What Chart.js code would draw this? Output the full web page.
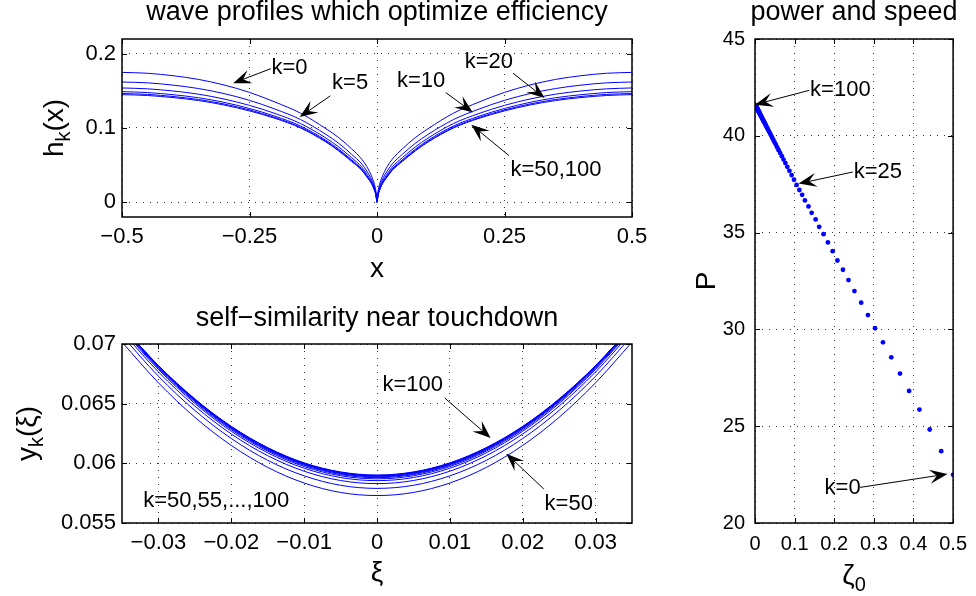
<!DOCTYPE html>
<html>
<head>
<meta charset="utf-8">
<title>wave profiles</title>
<script src="https://cdn.jsdelivr.net/npm/chart.js@4.4.1/dist/chart.umd.min.js"></script>
<style>
  html, body { margin: 0; padding: 0; background: #fff; }
  #page { position: relative; width: 976px; height: 596px; overflow: hidden; background: #fff; }
  #page canvas { position: absolute; }
</style>
</head>
<body>
<div id="page">
  <canvas id="profiles" width="660" height="290" style="left:0;top:0"></canvas>
  <canvas id="touchdown" width="660" height="306" style="left:0;top:290px"></canvas>
  <canvas id="power" width="316" height="596" style="left:660px;top:0"></canvas>
</div>
<script>
// ---- top left: half profiles h_k(x), x >= 0 (mirrored for x < 0)
const profileX = [0, 0.002, 0.005, 0.01, 0.02, 0.03, 0.05, 0.075, 0.1, 0.15, 0.2, 0.25, 0.3, 0.35, 0.4, 0.45, 0.5];
const profileK0   = [0, 0.014, 0.024, 0.034, 0.048, 0.058, 0.072, 0.087, 0.099, 0.120, 0.135, 0.148, 0.158, 0.1655, 0.1705, 0.1738, 0.175];
const profileK5   = [0, 0.0119, 0.0206, 0.0297, 0.0420, 0.0516, 0.0647, 0.0793, 0.0913, 0.1114, 0.1255, 0.1373, 0.1464, 0.1532, 0.1578, 0.1609, 0.162];
const profileK10  = [0, 0.0105, 0.0184, 0.0270, 0.0382, 0.0475, 0.0601, 0.0744, 0.0864, 0.1060, 0.1196, 0.1305, 0.1391, 0.1456, 0.1499, 0.1528, 0.154];
const profileK20  = [0, 0.0097, 0.0171, 0.0253, 0.0359, 0.0450, 0.0573, 0.0714, 0.0834, 0.1027, 0.1159, 0.1263, 0.1346, 0.1408, 0.1449, 0.1478, 0.149];
const profileK50  = [0, 0.0093, 0.0164, 0.0245, 0.0347, 0.0438, 0.0559, 0.0699, 0.0819, 0.1010, 0.1141, 0.1243, 0.1324, 0.1384, 0.1425, 0.1453, 0.1465];
const profileK100 = [0, 0.0090, 0.0160, 0.0240, 0.0340, 0.0430, 0.0550, 0.0690, 0.0810, 0.1000, 0.1130, 0.1230, 0.1310, 0.1370, 0.1410, 0.1438, 0.145];
const profileXTicks = [-0.5, -0.25, 0, 0.25, 0.5];
const profileXLabels = ['\u22120.5', '\u22120.25', '0', '0.25', '0.5'];
const profileYTicks = [0, 0.1, 0.2];
const profileYLabels = ['0', '0.1', '0.2'];

// ---- bottom left: y_k(xi) near touchdown, xi >= 0 (mirrored), k = 50,55,...,100
const nearXi = [0, 0.005, 0.01, 0.015, 0.02, 0.025, 0.03, 0.035];
const nearK50  = [0.05730, 0.05756, 0.05835, 0.05966, 0.06150, 0.06386, 0.06675, 0.07016];
const nearK55  = [0.05790, 0.05816, 0.05895, 0.06025, 0.06208, 0.06443, 0.06730, 0.07070];
const nearK60  = [0.05830, 0.05856, 0.05934, 0.06064, 0.06246, 0.06480, 0.06766, 0.07104];
const nearK65  = [0.05855, 0.05881, 0.05959, 0.06088, 0.06269, 0.06502, 0.06787, 0.07123];
const nearK70  = [0.05870, 0.05896, 0.05973, 0.06102, 0.06282, 0.06514, 0.06797, 0.07132];
const nearK75  = [0.05880, 0.05906, 0.05983, 0.06111, 0.06291, 0.06523, 0.06805, 0.07139];
const nearK80  = [0.05887, 0.05913, 0.05990, 0.06118, 0.06297, 0.06528, 0.06810, 0.07144];
const nearK85  = [0.05892, 0.05918, 0.05994, 0.06122, 0.06302, 0.06532, 0.06814, 0.07146];
const nearK90  = [0.05896, 0.05922, 0.05998, 0.06126, 0.06305, 0.06535, 0.06816, 0.07148];
const nearK95  = [0.05899, 0.05925, 0.06001, 0.06129, 0.06307, 0.06537, 0.06818, 0.07150];
const nearK100 = [0.05902, 0.05928, 0.06004, 0.06132, 0.06310, 0.06540, 0.06820, 0.07152];
const nearXTicks = [-0.03, -0.02, -0.01, 0, 0.01, 0.02, 0.03];
const nearXLabels = ['\u22120.03', '\u22120.02', '\u22120.01', '0', '0.01', '0.02', '0.03'];
const nearYTicks = [0.055, 0.06, 0.065, 0.07];
const nearYLabels = ['0.055', '0.06', '0.065', '0.07'];

// ---- right: power P against zeta_0, k = 0..100
const zetaValues = [
  0.5, 0.470, 0.441, 0.415, 0.389, 0.366, 0.344, 0.323, 0.303, 0.285,
  0.268, 0.251, 0.236, 0.222, 0.208, 0.196, 0.184, 0.173, 0.162, 0.153,
  0.143, 0.135, 0.126, 0.119, 0.112, 0.105, 0.0985, 0.0925, 0.0869, 0.0816,
  0.0767, 0.0721, 0.0677, 0.0636, 0.0597, 0.0561, 0.0527, 0.0495, 0.0465, 0.0437,
  0.0410, 0.0385, 0.0362, 0.0340, 0.0320, 0.0300, 0.0282, 0.0265, 0.0249, 0.0234,
  0.0220, 0.0206, 0.0194, 0.0182, 0.0171, 0.0161, 0.0151, 0.0142, 0.0133, 0.0125,
  0.0118, 0.0110, 0.0104, 0.0097, 0.0092, 0.0086, 0.0081, 0.0076, 0.0071, 0.0067,
  0.0063, 0.0059, 0.0056, 0.0052, 0.0049, 0.0046, 0.0043, 0.0041, 0.0038, 0.0036,
  0.0034, 0.0032, 0.0030, 0.0028, 0.0026, 0.0025, 0.0023, 0.0022, 0.0020, 0.0019,
  0.0018, 0.0017, 0.0016, 0.0015, 0.0014, 0.0013, 0.0012, 0.0012, 0.0011, 0.0010,
  0.0010
];
const powerValues = [
  22.49, 23.71, 24.83, 25.86, 26.82, 27.72, 28.56, 29.33, 30.06, 30.74,
  31.38, 31.98, 32.55, 33.08, 33.56, 34.04, 34.49, 34.92, 35.30, 35.68,
  36.02, 36.35, 36.66, 36.95, 37.20, 37.46, 37.73, 37.97, 38.19, 38.40,
  38.59, 38.77, 38.95, 39.11, 39.26, 39.40, 39.54, 39.66, 39.78, 39.89,
  40.00, 40.10, 40.19, 40.28, 40.36, 40.43, 40.51, 40.57, 40.64, 40.70,
  40.75, 40.81, 40.85, 40.90, 40.94, 40.98, 41.02, 41.06, 41.09, 41.13,
  41.15, 41.19, 41.21, 41.24, 41.26, 41.28, 41.30, 41.32, 41.34, 41.36,
  41.37, 41.39, 41.40, 41.41, 41.43, 41.44, 41.45, 41.46, 41.47, 41.48,
  41.49, 41.49, 41.50, 41.51, 41.52, 41.52, 41.53, 41.53, 41.54, 41.54,
  41.55, 41.55, 41.56, 41.56, 41.56, 41.57, 41.57, 41.57, 41.58, 41.58,
  41.58
];
const powerXTicks = [0, 0.1, 0.2, 0.3, 0.4, 0.5];
const powerXLabels = ['0', '0.1', '0.2', '0.3', '0.4', '0.5'];
const powerYTicks = [20, 25, 30, 35, 40, 45];
const powerYLabels = ['20', '25', '30', '35', '40', '45'];

const FONT = '"Liberation Sans", Arial, Helvetica, sans-serif';
const BLUE = '#0000ff';
Chart.defaults.font.family = FONT;
Chart.defaults.color = '#000';

// symmetric curve from the half arrays
function mirror(xs, ys) {
  const pts = [];
  for (let i = xs.length - 1; i > 0; i--) pts.push({ x: -xs[i], y: ys[i] });
  for (let i = 0; i < xs.length; i++) pts.push({ x: xs[i], y: ys[i] });
  return pts;
}

function curve(points) {
  return {
    data: points, borderColor: BLUE, borderWidth: 1, pointRadius: 0,
    fill: false, cubicInterpolationMode: 'monotone'
  };
}

// text with optional subscripts, centred on x along its own direction, y = baseline
function richText(ctx, parts, x, y, size, rotate) {
  const sub = Math.round(size * 0.7);
  ctx.save();
  ctx.translate(x, y);
  if (rotate) ctx.rotate(-Math.PI / 2);
  ctx.textAlign = 'left';
  ctx.textBaseline = 'alphabetic';
  ctx.fillStyle = '#000';
  let w = 0;
  parts.forEach(p => { ctx.font = (p[1] ? sub : size) + 'px ' + FONT; w += ctx.measureText(p[0]).width; });
  let cx = -w / 2;
  parts.forEach(p => {
    ctx.font = (p[1] ? sub : size) + 'px ' + FONT;
    ctx.fillText(p[0], cx, p[1] ? size * 0.24 : 0);
    cx += ctx.measureText(p[0]).width;
  });
  ctx.restore();
}

function arrow(ctx, x1, y1, x2, y2) {
  const ang = Math.atan2(y2 - y1, x2 - x1);
  const dx = Math.cos(ang), dy = Math.sin(ang);
  const L = 18, W = 7;
  ctx.beginPath();
  ctx.moveTo(x1, y1);
  ctx.lineTo(x2 - dx * L * 0.6, y2 - dy * L * 0.6);
  ctx.stroke();
  ctx.beginPath();
  ctx.moveTo(x2, y2);
  ctx.lineTo(x2 - dx * L - dy * W, y2 - dy * L + dx * W);
  ctx.lineTo(x2 - dx * L * 0.6, y2 - dy * L * 0.6);
  ctx.lineTo(x2 - dx * L + dy * W, y2 - dy * L - dx * W);
  ctx.closePath();
  ctx.fill();
}

// matlab-like box, inner ticks, titles, labels and text arrows
const framePlugin = {
  id: 'frame',
  afterDraw(chart, args, o) {
    const ctx = chart.ctx, a = chart.chartArea;
    const sx = chart.scales.x, sy = chart.scales.y;
    ctx.save();
    ctx.strokeStyle = '#000';
    ctx.fillStyle = '#000';
    ctx.lineWidth = 1;
    const tl = 5;
    sx.ticks.forEach(t => {
      const p = Math.round(sx.getPixelForValue(t.value)) + 0.5;
      ctx.beginPath();
      ctx.moveTo(p, a.bottom); ctx.lineTo(p, a.bottom - tl);
      ctx.moveTo(p, a.top); ctx.lineTo(p, a.top + tl);
      ctx.stroke();
    });
    sy.ticks.forEach(t => {
      const p = Math.round(sy.getPixelForValue(t.value)) + 0.5;
      ctx.beginPath();
      ctx.moveTo(a.left, p); ctx.lineTo(a.left + tl, p);
      ctx.moveTo(a.right, p); ctx.lineTo(a.right - tl, p);
      ctx.stroke();
    });
    ctx.lineWidth = 1.5;
    ctx.strokeRect(a.left, a.top, a.right - a.left, a.bottom - a.top);

    const mid = (a.left + a.right) / 2;
    richText(ctx, [[o.title]], mid, o.titleY, o.titleSize, false);
    richText(ctx, o.xLabel, mid, o.xLabelY, 28, false);
    richText(ctx, o.yLabel, o.yLabelX, (a.top + a.bottom) / 2, 28, true);

    ctx.lineWidth = 1;
    o.notes.forEach(n => {
      if (n.tail) {
        arrow(ctx, sx.getPixelForValue(n.tail[0]), sy.getPixelForValue(n.tail[1]),
          sx.getPixelForValue(n.tip[0]), sy.getPixelForValue(n.tip[1]));
      }
      ctx.font = '22px ' + FONT;
      ctx.textAlign = 'left';
      ctx.textBaseline = 'middle';
      ctx.fillText(n.text, sx.getPixelForValue(n.at[0]), sy.getPixelForValue(n.at[1]));
    });
    ctx.restore();
  }
};

function makeScales(c) {
  const grid = { color: 'rgba(0,0,0,0.8)', drawTicks: false, lineWidth: 1 };
  return {
    x: {
      type: 'linear', min: c.xMin, max: c.xMax,
      afterBuildTicks: s => { s.ticks = c.xTicks.map(v => ({ value: v })); },
      afterFit: s => { s.height = 73; },
      ticks: { callback: (v, i) => c.xLabels[i], font: { size: c.tickSize }, padding: c.xPad,
        maxRotation: 0, autoSkip: false, color: '#000' },
      grid: grid,
      border: { display: false, dash: [1, 6] }
    },
    y: {
      type: 'linear', min: c.yMin, max: c.yMax,
      afterBuildTicks: s => { s.ticks = c.yTicks.map(v => ({ value: v })); },
      afterFit: s => { s.width = c.yWidth; },
      ticks: { callback: (v, i) => c.yLabels[i], font: { size: c.tickSize }, padding: c.yPad,
        autoSkip: false, color: '#000' },
      grid: grid,
      border: { display: false, dash: [1, 6] }
    }
  };
}

function baseOptions(c, frame) {
  return {
    responsive: false,
    animation: false,
    events: [],
    layout: { padding: { left: 0, top: c.top, right: c.right, bottom: 0 } },
    scales: makeScales(c),
    plugins: { legend: { display: false }, tooltip: { enabled: false }, frame: frame }
  };
}

// wave profiles
new Chart(document.getElementById('profiles'), {
  type: 'line',
  data: {
    datasets: [profileK0, profileK5, profileK10, profileK20, profileK50, profileK100]
      .map(h => curve(mirror(profileX, h)))
  },
  options: baseOptions({
    xMin: -0.5, xMax: 0.5, xTicks: profileXTicks, xLabels: profileXLabels,
    yMin: -0.02, yMax: 0.22, yTicks: profileYTicks, yLabels: profileYLabels,
    tickSize: 22, xPad: 7, yPad: 6, yWidth: 122, top: 39, right: 28
  }, {
    title: 'wave profiles which optimize efficiency', titleY: 20, titleSize: 27,
    xLabel: [['x']], xLabelY: 277,
    yLabel: [['h'], ['k', 1], ['(x)']], yLabelX: 63,
    notes: [
      { text: 'k=0', at: [-0.207, 0.1806], tail: [-0.208, 0.1800], tip: [-0.282, 0.1605] },
      { text: 'k=5', at: [-0.088, 0.1605], tail: [-0.0914, 0.1434], tip: [-0.1516, 0.1148] },
      { text: 'k=10', at: [0.039, 0.1638], tail: [0.1347, 0.1478], tip: [0.188, 0.121] },
      { text: 'k=20', at: [0.172, 0.1884], tail: [0.2667, 0.1739], tip: [0.3288, 0.1403] },
      { text: 'k=50,100', at: [0.2616, 0.044], tail: [0.2588, 0.0628], tip: [0.185, 0.1044] }
    ]
  }),
  plugins: [framePlugin]
});

// self-similarity near touchdown
new Chart(document.getElementById('touchdown'), {
  type: 'line',
  data: {
    datasets: [nearK50, nearK55, nearK60, nearK65, nearK70, nearK75, nearK80, nearK85, nearK90, nearK95, nearK100]
      .map(y => curve(mirror(nearXi, y)))
  },
  options: baseOptions({
    xMin: -0.035, xMax: 0.035, xTicks: nearXTicks, xLabels: nearXLabels,
    yMin: 0.055, yMax: 0.07, yTicks: nearYTicks, yLabels: nearYLabels,
    tickSize: 22, xPad: 7, yPad: 6, yWidth: 122, top: 54, right: 28
  }, {
    title: 'self\u2212similarity near touchdown', titleY: 36, titleSize: 27,
    xLabel: [['\u03be']], xLabelY: 291,
    yLabel: [['y'], ['k', 1], ['(\u03be)']], yLabelX: 36,
    notes: [
      { text: 'k=100', at: [0.00074, 0.06659], tail: [0.00929, 0.06548], tip: [0.0156, 0.06212] },
      { text: 'k=50', at: [0.023, 0.05662], tail: [0.0229, 0.05785], tip: [0.01775, 0.06081] },
      { text: 'k=50,55,...,100', at: [-0.0321, 0.05681] }
    ]
  }),
  plugins: [framePlugin]
});

// power and speed
new Chart(document.getElementById('power'), {
  type: 'scatter',
  data: {
    datasets: [{
      data: zetaValues.map((z, i) => ({ x: z, y: powerValues[i] })),
      pointRadius: 2.4, pointBorderWidth: 0,
      pointBackgroundColor: BLUE, borderColor: BLUE, showLine: false
    }]
  },
  options: baseOptions({
    xMin: 0, xMax: 0.5, xTicks: powerXTicks, xLabels: powerXLabels,
    yMin: 20, yMax: 45, yTicks: powerYTicks, yLabels: powerYLabels,
    tickSize: 20, xPad: 9, yPad: 10, yWidth: 95, top: 39, right: 17
  }, {
    title: 'power and speed', titleY: 20, titleSize: 27,
    xLabel: [['\u03b6'], ['0', 1]], xLabelY: 584,
    yLabel: [['P']], yLabelX: 55,
    notes: [
      { text: 'k=100', at: [0.139, 42.35], tail: [0.137, 42.35], tip: [0.0, 41.61] },
      { text: 'k=25', at: [0.249, 38.13], tail: [0.247, 38.13], tip: [0.110, 37.53] },
      { text: 'k=0', at: [0.1757, 21.80], tail: [0.2654, 21.84], tip: [0.486, 22.53] }
    ]
  }),
  plugins: [framePlugin]
});
</script>
</body>
</html>
